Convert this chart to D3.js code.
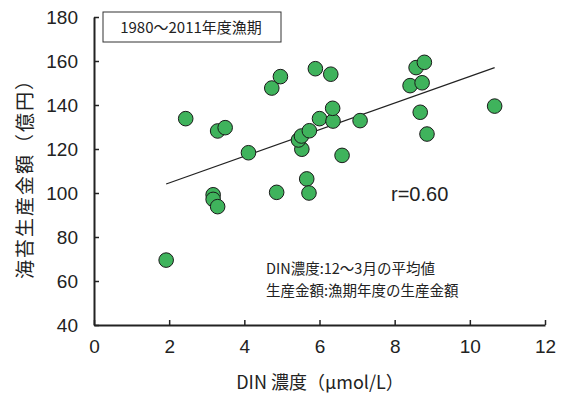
<!DOCTYPE html>
<html lang="ja">
<head>
<meta charset="UTF-8">
<script src="https://d3js.org/d3.v7.min.js"></script>
<style>
  body { margin: 0; background: #fff; }
  svg text { font-family: "Liberation Sans", Arial, sans-serif; fill: #222; }
  .jp { font-family: "Noto Sans CJK JP", "Noto Sans", sans-serif; }
</style>
</head>
<body>
<svg id="chart"></svg>
<script>
// DIN concentration (umol/L) vs nori production value (100M yen)
var dinValues = [2.44, 3.29, 3.49, 4.11, 4.73, 4.96, 5.89, 6.30, 5.53, 5.44, 5.52,
                 5.73, 6.00, 6.36, 6.35, 6.60, 7.08, 8.41, 8.57, 8.79, 8.73, 8.68,
                 8.86, 10.66, 1.92, 3.17, 3.17, 3.29, 4.86, 5.66, 5.72];
var prodValues = [133.8, 128.2, 129.7, 118.3, 147.7, 152.9, 156.5, 154.0, 119.9, 124.1, 125.9,
                  128.3, 133.8, 132.7, 138.5, 117.1, 132.9, 148.8, 157.0, 159.4, 150.1, 136.7,
                  126.8, 139.5, 69.5, 99.2, 97.1, 93.8, 100.3, 106.4, 100.0];
var fitSlope = 6.05, fitIntercept = 92.5;
var xTicks = [0, 2, 4, 6, 8, 10, 12];
var yTicks = [40, 60, 80, 100, 120, 140, 160, 180];

var W = 563, H = 396;
var pLeft = 94, pRight = 545, pTop = 17, pBottom = 325;

var svg = d3.select("#chart").attr("width", W).attr("height", H);

var x = d3.scaleLinear().domain([0, 12]).range([pLeft, pRight]);
var y = d3.scaleLinear().domain([40, 180]).range([pBottom, pTop]);

// axes
var xAxis = svg.append("g").attr("transform", "translate(0," + pBottom + ")")
    .call(d3.axisBottom(x).tickValues(xTicks).tickSizeInner(-5).tickSizeOuter(0).tickPadding(15));
var yAxis = svg.append("g").attr("transform", "translate(" + pLeft + ",0)")
    .call(d3.axisLeft(y).tickValues(yTicks).tickSizeInner(-5).tickSizeOuter(0).tickPadding(16));

[xAxis, yAxis].forEach(function(a) {
    a.select(".domain").attr("stroke", "#222").attr("stroke-width", 2);
    a.selectAll(".tick line").attr("stroke", "#222").attr("stroke-width", 1.5);
    a.selectAll(".tick text").attr("font-size", 19).attr("fill", "#222")
        .attr("font-family", "'Liberation Sans', Arial, sans-serif");
});

// regression line
var xMin = d3.min(dinValues), xMax = d3.max(dinValues);
svg.append("line")
    .attr("x1", x(xMin)).attr("y1", y(fitIntercept + fitSlope * xMin))
    .attr("x2", x(xMax)).attr("y2", y(fitIntercept + fitSlope * xMax))
    .attr("stroke", "#222").attr("stroke-width", 1.2);

// points
svg.append("g").selectAll("circle").data(dinValues).enter()
    .append("circle")
    .attr("cx", function(d) { return x(d); })
    .attr("cy", function(d, i) { return y(prodValues[i]); })
    .attr("r", 7.3)
    .attr("fill", "#3fb35c")
    .attr("stroke", "#1a1a1a")
    .attr("stroke-width", 1);

// legend box
svg.append("rect").attr("x", 103).attr("y", 12).attr("width", 178).attr("height", 30)
    .attr("fill", "#fff").attr("stroke", "#333").attr("stroke-width", 1);
svg.append("text").attr("class", "jp").attr("x", 191).attr("y", 33)
    .attr("text-anchor", "middle").attr("font-size", 15).text("1980～2011年度漁期");

// r value
svg.append("text").attr("x", 391).attr("y", 201).attr("font-size", 20)
    .text("r=0.60");

// notes
svg.append("text").attr("class", "jp").attr("x", 266).attr("y", 274).attr("font-size", 14.5)
    .text("DIN濃度:12～3月の平均値");
svg.append("text").attr("class", "jp").attr("x", 266).attr("y", 296).attr("font-size", 14.5)
    .text("生産金額:漁期年度の生産金額");

// axis titles
svg.append("text").attr("class", "jp").attr("x", 320).attr("y", 389)
    .attr("text-anchor", "middle").attr("font-size", 18).text("DIN 濃度（μmol/L）");
svg.append("text").attr("class", "jp")
    .attr("transform", "translate(32,174) rotate(-90)")
    .attr("text-anchor", "middle").attr("font-size", 19).attr("letter-spacing", 2)
    .text("海苔生産金額（億円）");
</script>
</body>
</html>
